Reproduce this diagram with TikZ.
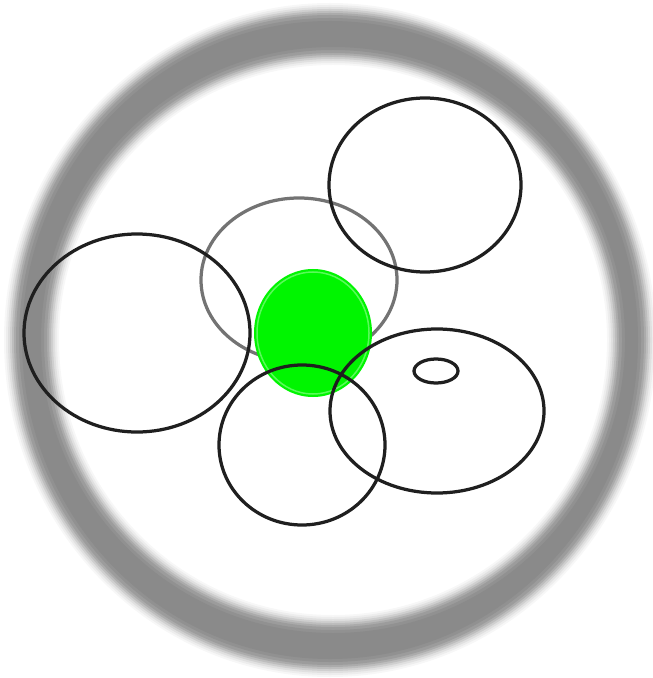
\documentclass[tikz,border=0pt]{standalone}
\usepackage{tikz}
\usetikzlibrary{positioning}
\definecolor{brightgreen}{RGB}{0,245,0}
\definecolor{palegreen}{RGB}{90,250,90}
\begin{document}
\begin{tikzpicture}[x=0.02cm, y=-0.02cm,
        outline/.style={draw=black!88, line width=0.065cm},
        halo/.style={draw=black!55, line width=0.065cm},
        blob/.style={fill=brightgreen}
    ]
    \useasboundingbox (0,0) rectangle (652,678);

    % blurred outer ring
    \coordinate (ringout) at (330,340);
    \coordinate (ringin) at (333,340);
    \foreach \s/\c in {12/3, 10/7, 8/12, 6/19, 4/26, 2/33, 0/39, -3/43, -6/46}
      \fill[black!\c, even odd rule]
        (ringout) ellipse [x radius=314+\s, y radius=325+\s]
        (ringin) ellipse [x radius=286-\s, y radius=287-\s];

    % grey circle in the middle
    \coordinate (mid) at (299,280);
    \draw[halo] (mid) ellipse [x radius=98, y radius=82];

    % green disk
    \coordinate (core) at (313,333);
    \fill[blob] (core) ellipse [x radius=59, y radius=64];
    \draw[palegreen, line width=0.03cm] (core) ellipse [x radius=56, y radius=61];

    % black outlines
    \coordinate (topright) at (425,185);
    \coordinate (left) at (137,333);
    \coordinate (bottom) at (302,445);
    \coordinate (right) at (437,411);
    \coordinate (dot) at (436,371);
    \draw[outline] (topright) ellipse [x radius=96, y radius=87];
    \draw[outline] (left) ellipse [x radius=113, y radius=99];
    \draw[outline] (bottom) ellipse [x radius=83, y radius=80];
    \draw[outline] (right) ellipse [x radius=107, y radius=82];
    \draw[outline] (dot) ellipse [x radius=22, y radius=12];
\end{tikzpicture}
\end{document}
